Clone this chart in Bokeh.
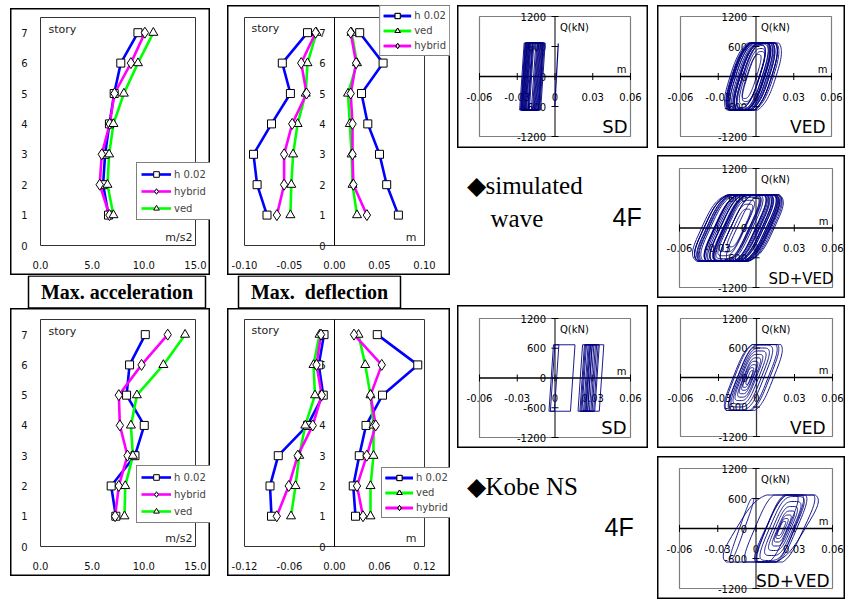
import numpy as np
from bokeh.plotting import figure
from bokeh.models import Range1d, Spacer
from bokeh.layouts import row, column
from bokeh.core.properties import value
from bokeh.embed import file_html
from bokeh.resources import INLINE

# ---------------- data: storey profiles ----------------
STORY = [1, 2, 3, 4, 5, 6, 7]
STORY_TICKS = [0, 1, 2, 3, 4, 5, 6, 7]
STORY_LABELS = ["0", "1", "2", "3", "4", "5", "6", "7"]
Y_LIM = [0, 7.5]

ACC_X_LIM = [0, 15]
ACC_X_TICKS = [0, 5, 10, 15]
ACC_X_LABELS = ["0.0", "5.0", "10.0", "15.0"]

ACC_SIM_H002 = [6.58, 6.06, 6.25, 6.67, 7.13, 7.77, 9.43]
ACC_SIM_HYB = [6.67, 5.73, 5.93, 6.70, 7.16, 8.75, 10.10]
ACC_SIM_VED = [7.06, 6.48, 6.64, 7.06, 8.07, 9.43, 10.92]

ACC_KOBE_H002 = [7.29, 6.84, 9.14, 10.04, 8.33, 8.62, 10.14]
ACC_KOBE_HYB = [7.22, 7.58, 8.42, 7.68, 7.58, 9.78, 12.31]
ACC_KOBE_VED = [8.13, 8.20, 8.94, 8.75, 9.33, 11.89, 13.99]

DEF_SIM_X_LIM = [-0.10, 0.10]
DEF_SIM_X_TICKS = [-0.10, -0.05, 0.0, 0.05, 0.10]
DEF_SIM_X_LABELS = ["-0.10", "-0.05", "0.00", "0.05", "0.10"]
DEF_SIM_H002_NEG = [-0.075, -0.086, -0.090, -0.070, -0.049, -0.058, -0.030]
DEF_SIM_H002_POS = [0.071, 0.058, 0.050, 0.037, 0.030, 0.054, 0.028]
DEF_SIM_VED_NEG = [-0.049, -0.048, -0.046, -0.041, -0.032, -0.030, -0.020]
DEF_SIM_VED_POS = [0.025, 0.020, 0.019, 0.017, 0.015, 0.025, 0.019]
DEF_SIM_HYB_NEG = [-0.064, -0.056, -0.056, -0.047, -0.031, -0.037, -0.021]
DEF_SIM_HYB_POS = [0.036, 0.021, 0.020, 0.020, 0.018, 0.024, 0.018]

DEF_KOBE_X_LIM = [-0.12, 0.12]
DEF_KOBE_X_TICKS = [-0.12, -0.06, 0.0, 0.06, 0.12]
DEF_KOBE_X_LABELS = ["-0.12", "-0.06", "0.00", "0.06", "0.12"]
DEF_KOBE_H002_NEG = [-0.084, -0.086, -0.075, -0.036, -0.015, -0.021, -0.014]
DEF_KOBE_H002_POS = [0.028, 0.025, 0.033, 0.042, 0.064, 0.111, 0.057]
DEF_KOBE_VED_NEG = [-0.058, -0.052, -0.047, -0.039, -0.026, -0.028, -0.020]
DEF_KOBE_VED_POS = [0.048, 0.048, 0.052, 0.052, 0.048, 0.041, 0.032]
DEF_KOBE_HYB_NEG = [-0.077, -0.061, -0.049, -0.029, -0.017, -0.024, -0.018]
DEF_KOBE_HYB_POS = [0.038, 0.030, 0.043, 0.055, 0.048, 0.063, 0.026]

# ---------------- data: hysteresis loops (4F) ----------------
HY_X_LIM = [-0.06, 0.06]
HY_X_TICKS = [-0.06, -0.03, 0.0, 0.03, 0.06]
HY_X_LABELS = ["-0.06", "-0.03", "0", "0.03", "0.06"]
HY_Q_LIM = [-1200, 1200]
HY_Q_TICKS = [-1200, -600, 0, 600, 1200]
HY_Q_LABELS = ["-1200", "-600", "0", "600", "1200"]

Q_CAP = 670          # kN, flat top of the loops
SD_DX = 0.0036       # m, elastic branch width of the steel damper

SD_SIM_XL = [-0.0281, -0.0268, -0.0274, -0.0252, -0.0263, -0.0239, -0.0257, -0.0226,
             -0.0248, -0.0231, -0.0270, -0.0218, -0.0244, -0.0259, -0.0212, -0.0236]
SD_SIM_XR = [-0.0078, -0.0102, -0.0125, -0.0091, -0.0143, -0.0114, -0.0168, -0.0097,
             -0.0131, -0.0085, -0.0152, -0.0108, -0.0119, -0.0176, -0.0094, -0.0137]
SD_SIM_INIT_X = [-0.0002, 0.0026]
SD_SIM_INIT_Q = [-610, 660]

SD_KOBE_XL = [-0.0048, -0.0037, 0.0183, 0.0198, 0.0214, 0.0227, 0.0243, 0.0259, 0.0206, 0.0236]
SD_KOBE_XR = [0.0159, 0.0031, 0.0388, 0.0352, 0.0331, 0.0309, 0.0296, 0.0343, 0.0284, 0.0321]

VED_SIM_C = [-0.001, -0.003, -0.005, -0.002, -0.004, -0.006, 0.000, -0.003, -0.005, -0.002, -0.004,
             -0.003, -0.0045, -0.0025, -0.0055, -0.0035, -0.0015, -0.004, -0.003, -0.005, -0.002, -0.0035]
VED_SIM_W = [0.0169, 0.0156, 0.0156, 0.0143, 0.0137, 0.0130, 0.0124, 0.0117, 0.0111, 0.0104, 0.0091,
             0.0078, 0.0150, 0.0163, 0.0120, 0.0101, 0.0086, 0.0068, 0.0059, 0.0075, 0.0049, 0.0039]
VED_SIM_Q = [740, 740, 740, 730, 730, 720, 720, 710, 700, 690, 680,
             650, 735, 740, 705, 690, 670, 620, 560, 640, 500, 440]
VED_SIM_K = [80000] * 22

SDVED_SIM_C = [-0.0142, -0.0150, -0.0130, -0.0165, -0.0120, -0.0175, -0.0140, -0.0110, -0.0160,
               -0.0135, -0.0185, -0.0125, -0.0150, -0.0145, -0.0040, -0.0020, -0.0100, -0.0155,
               -0.0138, -0.0158, -0.0128, -0.0170, -0.0115, -0.0148, -0.0132, -0.0162, -0.0122,
               -0.0152, -0.0060, -0.0080, -0.0145, -0.0135]
SDVED_SIM_W = [0.0285, 0.0260, 0.0240, 0.0225, 0.0210, 0.0200, 0.0185, 0.0170, 0.0160,
               0.0145, 0.0140, 0.0125, 0.0110, 0.0090, 0.0160, 0.0130, 0.0150, 0.0070,
               0.0270, 0.0250, 0.0230, 0.0215, 0.0195, 0.0178, 0.0152, 0.0135, 0.0118,
               0.0100, 0.0140, 0.0175, 0.0055, 0.0040]
SDVED_SIM_Q = [720, 720, 720, 715, 715, 710, 710, 700, 700, 690, 690, 680, 660, 620, 700, 680,
               700, 560, 720, 720, 715, 712, 708, 702, 695, 688, 675, 650, 690, 700, 480, 380]
SDVED_SIM_K = [56000] * 32

VED_KOBE_C = [-0.0025, -0.0035, -0.0030, -0.0045, -0.0050, -0.0055, -0.0060, -0.0058, -0.0062, -0.0060, -0.0065, -0.0055]
VED_KOBE_W = [0.0160, 0.0140, 0.0122, 0.0104, 0.0088, 0.0072, 0.0058, 0.0046, 0.0036, 0.0028, 0.0020, 0.0013]
VED_KOBE_Q = [720, 720, 700, 660, 600, 540, 470, 400, 330, 260, 200, 140]
VED_KOBE_K = [65000] * 12

SDVED_KOBE_C = [0.0116, -0.0110, 0.0120, 0.0200, 0.0205, 0.0210, 0.0212, 0.0215, 0.0210, 0.0205, 0.0200, 0.0225, 0.0190]
SDVED_KOBE_W = [0.0270, 0.0020, 0.0130, 0.0120, 0.0100, 0.0080, 0.0062, 0.0046, 0.0034, 0.0024, 0.0016, 0.0150, 0.0110]
SDVED_KOBE_Q = [720, 600, 720, 700, 640, 540, 440, 350, 270, 200, 140, 720, 700]
SDVED_KOBE_K = [42400, 72000, 60000, 60000, 60000, 60000, 60000, 60000, 60000, 60000, 60000, 55000, 65000]

PANEL_TITLES = ["SD", "VED", "SD+VED", "SD", "VED", "SD+VED"]

# ---------------- styling ----------------
COLORS = {"h 0.02": "#0000FF", "hybrid": "#FF00FF", "ved": "#00FF00"}
MARKERS = {"h 0.02": ("square", 8), "hybrid": ("diamond", 11), "ved": ("triangle", 9)}
LOOP_COLOR = "#000080"
SANS = "DejaVu Sans"


def txt(p, xs, ys, texts, dx=0, dy=0, align="center", size="10px", color="black", font=SANS, style="normal"):
    p.text(x=xs, y=ys, text=texts, x_offset=dx, y_offset=dy, text_align=align,
           text_baseline="middle", text_font=value(font), text_font_size=size,
           text_font_style=style, text_color=color)


def panel_ranges(W, H, inner, x_lim, y_lim):
    ix0, ix1, iy0, iy1 = inner
    sx = (ix1 - ix0) / (x_lim[1] - x_lim[0])
    sy = (iy1 - iy0) / (y_lim[1] - y_lim[0])
    return (Range1d(x_lim[0] - ix0 / sx, x_lim[1] + (W - ix1) / sx),
            Range1d(y_lim[0] - (H - iy1) / sy, y_lim[1] + iy0 / sy))


def profile_fig(W, H, inner, x_lim, x_ticks, x_labels, series, legend_loc, unit, center, leg):
    xr, yr = panel_ranges(W, H, inner, x_lim, Y_LIM)
    p = figure(width=W, height=H, x_range=xr, y_range=yr, x_axis_type=None, y_axis_type=None,
               toolbar_location=None, output_backend="svg", min_border=0)
    p.outline_line_color = "black"
    p.outline_line_width = 2
    p.quad(left=[x_lim[0]], right=[x_lim[1]], bottom=[Y_LIM[0]], top=[Y_LIM[1]],
           fill_color=None, line_color="#333333", line_width=1)
    txt(p, x_ticks, [Y_LIM[0]] * len(x_ticks), x_labels, dy=19, color="#111111")
    if center:
        p.line(x=[0, 0], y=Y_LIM, line_color="black", line_width=1)
        txt(p, [0] * len(STORY_TICKS), STORY_TICKS, STORY_LABELS, dx=-9, align="right", color="#111111")
        s_off, u_off = (7, 11), (-8, -8)
    else:
        txt(p, [x_lim[0]] * len(STORY_TICKS), STORY_TICKS, STORY_LABELS, dx=-13, align="right", color="#111111")
        s_off, u_off = (8, 12), (-3, -8)
    txt(p, [x_lim[0]], [Y_LIM[1]], ["story"], dx=s_off[0], dy=s_off[1], align="left", size="11px", color="#222222")
    txt(p, [x_lim[1]], [Y_LIM[0]], [unit], dx=u_off[0], dy=u_off[1], align="right", size="11px", color="#222222")
    for name, segs in series:
        for xs in segs:
            p.line(x=xs, y=STORY, line_color=COLORS[name], line_width=2.6, legend_label=name)
    for name, segs in series:
        mk, sz = MARKERS[name]
        for xs in segs:
            p.scatter(x=xs, y=STORY, marker=mk, size=sz, fill_color="white",
                      line_color="black", line_width=1, legend_label=name)
    lg = p.legend[0]
    lg.location = legend_loc
    lg.border_line_color = "black"
    lg.border_line_width = 1
    lg.background_fill_color = "white"
    lg.background_fill_alpha = 1.0
    lg.label_text_font = SANS
    lg.label_text_font_size = "10px"
    lg.margin = 0
    lg.glyph_width, lg.glyph_height, lg.label_height, lg.spacing, lg.padding = leg
    lg.label_standoff = 3
    return p


def sd_loops(xl_list, xr_list):
    xs, ys = [], []
    for xl, xr in zip(xl_list, xr_list):
        xs.append([xl, xl + SD_DX, xr, xr - SD_DX, xl])
        ys.append([-Q_CAP, Q_CAP, Q_CAP, -Q_CAP, -Q_CAP])
    return xs, ys


def round_loops(cs, ws, qs, ks, n):
    t = np.linspace(0, 2 * np.pi, 121)
    s, co = np.sin(t), np.cos(t)
    e = 2.0 / n
    xs, ys = [], []
    for c, w, q, k in zip(cs, ws, qs, ks):
        qq = np.clip(q * np.sign(s) * np.abs(s) ** e, -Q_CAP, Q_CAP)
        xx = c + w * np.sign(co) * np.abs(co) ** e + qq / k
        xs.append(xx.tolist())
        ys.append(qq.tolist())
    return xs, ys


def hyst_fig(W, H, box, loops, title, tsize, toff, extra=None):
    xr, yr = panel_ranges(W, H, box, HY_X_LIM, HY_Q_LIM)
    p = figure(width=W, height=H, x_range=xr, y_range=yr, x_axis_type=None, y_axis_type=None,
               toolbar_location=None, output_backend="svg", min_border=0)
    p.outline_line_color = "black"
    p.outline_line_width = 2
    p.quad(left=[HY_X_LIM[0]], right=[HY_X_LIM[1]], bottom=[HY_Q_LIM[0]], top=[HY_Q_LIM[1]],
           fill_color=None, line_color="#7f7f7f", line_width=1.2)
    txt(p, HY_X_TICKS, [0] * len(HY_X_TICKS), HY_X_LABELS, dy=20)
    txt(p, [0] * len(HY_Q_TICKS), HY_Q_TICKS, HY_Q_LABELS, dx=-9, align="right")
    p.line(x=HY_X_LIM, y=[0, 0], line_color="black", line_width=1.5)
    p.line(x=[0, 0], y=HY_Q_LIM, line_color="#3a3a3a", line_width=1.3)
    p.scatter(x=HY_X_TICKS, y=[0] * len(HY_X_TICKS), marker="dash", angle=np.pi / 2,
              size=7, line_color="black", fill_color=None, line_width=1)
    p.scatter(x=[0] * len(HY_Q_TICKS), y=HY_Q_TICKS, marker="dash", size=7,
              line_color="black", fill_color=None, line_width=1)
    xs, ys = loops
    p.multi_line(xs=xs, ys=ys, line_color=LOOP_COLOR, line_width=0.9)
    if extra is not None:
        p.line(x=extra[0], y=extra[1], line_color=LOOP_COLOR, line_width=1.2)
    txt(p, [0], [HY_Q_LIM[1]], ["Q(kN)"], dx=5, dy=11, align="left")
    txt(p, [HY_X_LIM[1]], [0], ["m"], dx=-4, dy=-7, align="right")
    txt(p, [HY_X_LIM[1]], [HY_Q_LIM[0]], [title], dx=toff[0], dy=toff[1], align="right", size=tsize)
    return p


def text_fig(W, H, items, box=None):
    p = figure(width=W, height=H, x_range=Range1d(0, W), y_range=Range1d(0, H),
               x_axis_type=None, y_axis_type=None, toolbar_location=None,
               output_backend="svg", min_border=0)
    p.outline_line_color = None
    if box is not None:
        p.quad(left=[box[0]], right=[box[1]], top=[H - box[2]], bottom=[H - box[3]],
               fill_color="white", line_color="black", line_width=1.5)
    for x, y, t, font, size, style in items:
        txt(p, [x], [H - y], [t], align=("center" if box is not None else "left"),
            size=size, font=font, style=style)
    return p


ACC_LEG = (30, 14, 14, 3, 4)
DEF_LEG = (28, 13, 13, 2, 3)

A1 = profile_fig(200, 267, (30, 185, 9, 237), ACC_X_LIM, ACC_X_TICKS, ACC_X_LABELS,
                 [("h 0.02", [ACC_SIM_H002]), ("hybrid", [ACC_SIM_HYB]), ("ved", [ACC_SIM_VED])],
                 (126, 55), "m/s2", False, ACC_LEG)
A2 = profile_fig(200, 268, (30, 185, 11, 238), ACC_X_LIM, ACC_X_TICKS, ACC_X_LABELS,
                 [("h 0.02", [ACC_KOBE_H002]), ("hybrid", [ACC_KOBE_HYB]), ("ved", [ACC_KOBE_VED])],
                 (126, 53), "m/s2", False, ACC_LEG)
B1 = profile_fig(223, 270, (17, 197, 12, 240), DEF_SIM_X_LIM, DEF_SIM_X_TICKS, DEF_SIM_X_LABELS,
                 [("h 0.02", [DEF_SIM_H002_NEG, DEF_SIM_H002_POS]),
                  ("ved", [DEF_SIM_VED_NEG, DEF_SIM_VED_POS]),
                  ("hybrid", [DEF_SIM_HYB_NEG, DEF_SIM_HYB_POS])],
                 "top_right", "m", True, DEF_LEG)
B2 = profile_fig(223, 268, (17, 197, 11, 238), DEF_KOBE_X_LIM, DEF_KOBE_X_TICKS, DEF_KOBE_X_LABELS,
                 [("h 0.02", [DEF_KOBE_H002_NEG, DEF_KOBE_H002_POS]),
                  ("ved", [DEF_KOBE_VED_NEG, DEF_KOBE_VED_POS]),
                  ("hybrid", [DEF_KOBE_HYB_NEG, DEF_KOBE_HYB_POS])],
                 (154, 58), "m", True, DEF_LEG)

LA = text_fig(200, 33, [(106.5, 16.5, "Max. acceleration", "Liberation Serif", "20px", "bold")],
              box=(18, 195, 0.5, 32.5))
LB = text_fig(223, 33, [(92, 16.5, "Max.\u00a0 deflection", "Liberation Serif", "20px", "bold")],
              box=(11, 173, 0.5, 32.5))

C1 = hyst_fig(191, 143, (22, 173, 11, 131), sd_loops(SD_SIM_XL, SD_SIM_XR),
              PANEL_TITLES[0], "18px", (-3, -10), extra=(SD_SIM_INIT_X, SD_SIM_INIT_Q))
D1 = hyst_fig(188, 143, (23, 174, 11, 131),
              round_loops(VED_SIM_C, VED_SIM_W, VED_SIM_Q, VED_SIM_K, 3),
              PANEL_TITLES[1], "17px", (-6, -10))
D2 = hyst_fig(188, 143, (22, 175, 13, 132),
              round_loops(SDVED_SIM_C, SDVED_SIM_W, SDVED_SIM_Q, SDVED_SIM_K, 4),
              PANEL_TITLES[2], "15px", (1, -9))
C2 = hyst_fig(191, 143, (22, 173, 13, 132), sd_loops(SD_KOBE_XL, SD_KOBE_XR),
              PANEL_TITLES[3], "18px", (-4, -10))
D3 = hyst_fig(188, 143, (23, 175, 13, 131),
              round_loops(VED_KOBE_C, VED_KOBE_W, VED_KOBE_Q, VED_KOBE_K, 4),
              PANEL_TITLES[4], "17px", (-7, -9))
D4 = hyst_fig(188, 143, (22, 175, 12, 132),
              round_loops(SDVED_KOBE_C, SDVED_KOBE_W, SDVED_KOBE_Q, SDVED_KOBE_K, 4),
              PANEL_TITLES[5], "17px", (-3, -8))

CT1 = text_fig(191, 157, [(9, 37, "\u25c6simulated", "Liberation Serif", "25px", "normal"),
                          (33, 70, "wave", "Liberation Serif", "25px", "normal"),
                          (155, 68, "4F", "Liberation Sans", "25px", "normal")])
CT2 = text_fig(191, 151, [(9, 38, "\u25c6Kobe NS", "Liberation Serif", "25px", "normal"),
                          (147, 78, "4F", "Liberation Sans", "25px", "normal")])

layout = row(
    Spacer(width=10, height=1),
    column(Spacer(width=200, height=8), A1, LA, A2),
    Spacer(width=17, height=1),
    column(Spacer(width=223, height=5), B1, LB, B2),
    Spacer(width=7, height=1),
    column(Spacer(width=191, height=5), C1, CT1, C2, CT2),
    Spacer(width=9, height=1),
    column(Spacer(width=188, height=5), D1, Spacer(width=188, height=7), D2,
           Spacer(width=188, height=7), D3, Spacer(width=188, height=8), D4),
)

with open("out.html", "w") as f:
    f.write(file_html(layout, INLINE))
